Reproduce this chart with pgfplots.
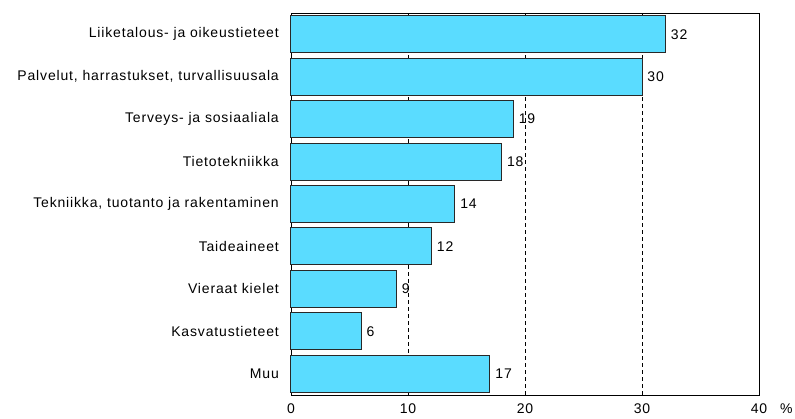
\documentclass[border=0pt]{standalone}
\usepackage{fontspec}
\setmainfont{Liberation Sans}[LetterSpace=6]
\usepackage{pgfplots}
\pgfplotsset{compat=1.18}
\definecolor{barcyan}{RGB}{90,220,255}
\definecolor{baredge}{RGB}{40,40,40}
\pgfplotstableread{
y val
0 32
1 30
2 19
3 18
4 14
5 12
6 9
7 6
8 17
}\datatable
\begin{document}
\begin{tikzpicture}[font=\fontsize{14}{16}\selectfont]
\useasboundingbox (-291pt,-24pt) rectangle (504pt,395pt);
\begin{axis}[
  at={(0,0)}, anchor=south west,
  scale only axis,
  width=468pt, height=382pt,
  xbar,
  xmin=0, xmax=40,
  ymin=-0.5, ymax=8.5,
  y dir=reverse,
  bar width=0.87,
  xtick={0,10,20,30,40},
  ytick={0,...,8},
  yticklabels={Liiketalous- ja oikeustieteet,{Palvelut, harrastukset, turvallisuusala},Terveys- ja sosiaaliala,Tietotekniikka,{Tekniikka, tuotanto ja rakentaminen},Taideaineet,Vieraat kielet,Kasvatustieteet,Muu},
  major tick length=0pt,
  tick label style={inner sep=0pt},
  yticklabel shift=12pt,
  xticklabel shift=9pt,
  /pgf/number format/assume math mode=true,
  xmajorgrids=true,
  grid style={black, dash pattern=on 3.5pt off 3.5pt, line width=0.8pt},
  axis line style={black, line width=0.9pt},
  nodes near coords,
  every node near coord/.append style={font=\fontsize{14}{16}\selectfont, inner sep=0pt, xshift=5pt, anchor=west, /pgf/number format/assume math mode=true},
  clip=false,
]
\addplot[fill=barcyan, draw=baredge, line width=1pt] table[x=val, y=y] {\datatable};
\node[anchor=north west, inner sep=0pt, yshift=-9pt, xshift=21pt] at (axis cs:40,8.5) {\%};
\end{axis}
\end{tikzpicture}
\end{document}
